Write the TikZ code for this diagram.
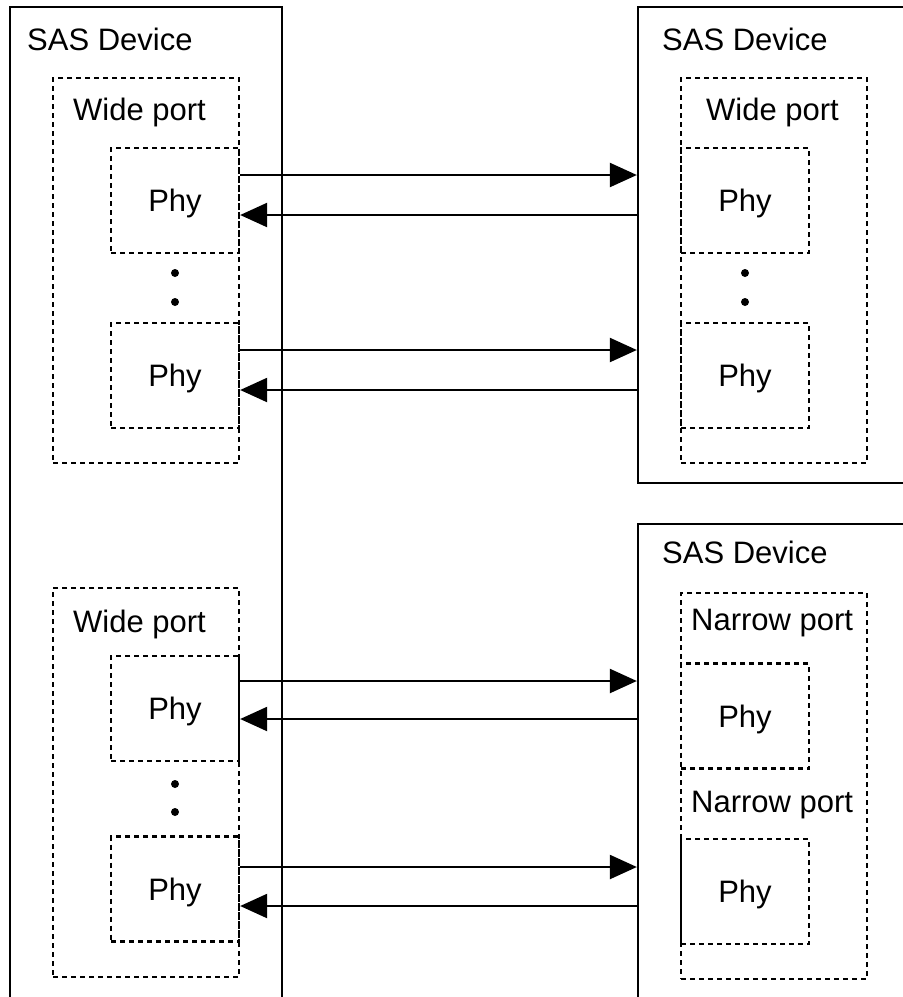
\documentclass[tikz,border=0pt]{standalone}
\usepackage{fontspec}
\setmainfont{Liberation Sans}
\usetikzlibrary{arrows.meta}

\begin{document}
\begin{tikzpicture}[x=1pt,y=-1pt,
            every node/.style={font=\fontsize{31}{37}\selectfont},
            dev/.style={draw,line width=2.3pt,inner sep=0pt},
            port/.style={draw,line width=2.3pt,dash pattern=on 5pt off 4pt,inner sep=0pt},
            phy/.style={port,minimum width=128pt,minimum height=105pt,text depth=0pt},
            lbl/.style={anchor=base west,inner sep=0pt},
            sig/.style={line width=2.3pt,-{Triangle[length=27pt,width=24pt]}}]
            \useasboundingbox (0,0) rectangle (903,997);
            \clip (0,0) rectangle (903,997);
            % devices
            \node[dev,minimum width=272pt,minimum height=1013pt] (ldev) at (146,513.5) {};
            \node[dev,minimum width=292pt,minimum height=476pt] (rdevA) at (784,245) {};
            \node[dev,minimum width=292pt,minimum height=496pt] (rdevB) at (784,772) {};
            \node[lbl] (ldevlbl) at (27,50) {SAS Device};
            \node[lbl] (rdevAlbl) at (662,50) {SAS Device};
            \node[lbl] (rdevBlbl) at (662,563) {SAS Device};
            % ports
            \node[port,minimum width=186pt,minimum height=385pt] (lwideA) at (146,270.5) {};
            \node[port,minimum width=186pt,minimum height=389pt] (lwideB) at (146,782.5) {};
            \node[port,minimum width=186pt,minimum height=385pt] (rwide) at (774,270.5) {};
            \node[port,minimum width=186pt,minimum height=386pt] (rnarrow) at (774,786) {};
            \node[lbl] (lwideAlbl) at (73,120) {Wide port};
            \node[lbl] (lwideBlbl) at (73,632) {Wide port};
            \node[lbl] (rwidelbl) at (706,120) {Wide port};
            \node[lbl] (rnarrowAlbl) at (691,630) {Narrow port};
            \node[lbl] (rnarrowBlbl) at (691,812) {Narrow port};
            % phys
            \node[phy] (lphyA) at (175,200.5) {Phy};
            \node[phy] (lphyB) at (175,375.5) {Phy};
            \node[phy] (lphyC) at (175,708.5) {Phy};
            \node[phy] (lphyD) at (175,889) {Phy};
            \node[phy] (rphyA) at (745,200.5) {Phy};
            \node[phy] (rphyB) at (745,375.5) {Phy};
            \node[phy] (rphyC) at (745,716) {Phy};
            \node[phy] (rphyD) at (745,891.5) {Phy};
            \fill (175,273) circle(4pt);
            \fill (175,302) circle(4pt);
            \fill (745,273) circle(4pt);
            \fill (745,302) circle(4pt);
            \fill (175,784) circle(4pt);
            \fill (175,812) circle(4pt);
            % links
            \draw[sig] (lphyA.east |- 0,175) -- (rdevA.west |- 0,175);
            \draw[sig] (rdevA.west |- 0,215) -- (lphyA.east |- 0,215);
            \draw[sig] (lphyB.east |- 0,350) -- (rdevA.west |- 0,350);
            \draw[sig] (rdevA.west |- 0,390) -- (lphyB.east |- 0,390);
            \draw[sig] (lphyC.east |- 0,681) -- (rdevB.west |- 0,681);
            \draw[sig] (rdevB.west |- 0,719) -- (lphyC.east |- 0,719);
            \draw[sig] (lphyD.east |- 0,867) -- (rdevB.west |- 0,867);
            \draw[sig] (rdevB.west |- 0,906) -- (lphyD.east |- 0,906);
        \end{tikzpicture}
\end{document}
